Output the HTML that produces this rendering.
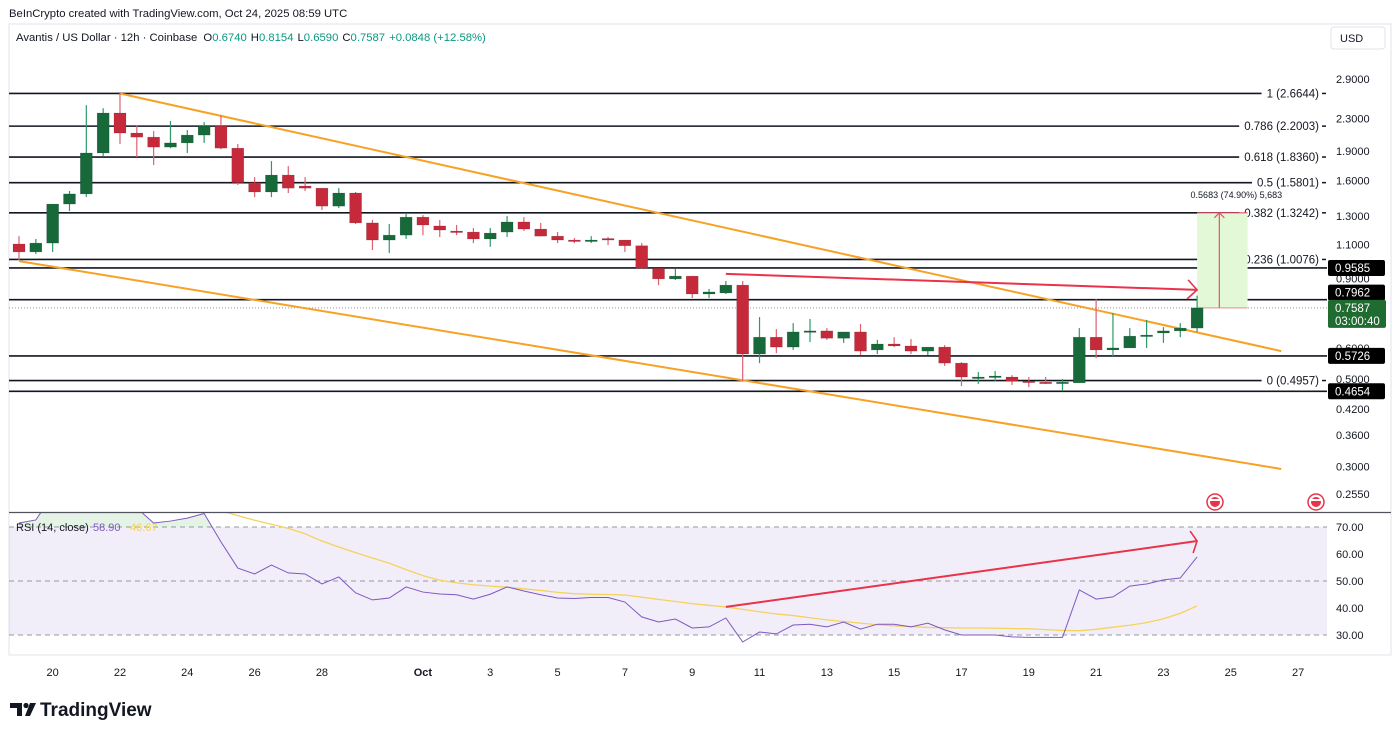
<!DOCTYPE html>
<html><head><meta charset="utf-8">
<style>
html,body{margin:0;padding:0;background:#fff;}
svg{display:block;font-family:"Liberation Sans",sans-serif;}
</style></head>
<body>
<svg id="chart" width="1400" height="736" viewBox="0 0 1400 736" xmlns="http://www.w3.org/2000/svg">
  <rect x="0" y="0" width="1400" height="736" fill="#fff"/>
  <text x="9" y="17" font-size="11.3" fill="#131722">BeInCrypto created with TradingView.com, Oct 24, 2025 08:59 UTC</text>
  <rect x="9" y="24" width="1382" height="631" fill="none" stroke="#e0e3eb" stroke-width="1"/>
  <text x="16" y="41" font-size="11.3" fill="#131722">Avantis / US Dollar · 12h · Coinbase <tspan dx="3">O</tspan><tspan fill="#089981">0.6740</tspan><tspan dx="4">H</tspan><tspan fill="#089981">0.8154</tspan><tspan dx="4">L</tspan><tspan fill="#089981">0.6590</tspan><tspan dx="4">C</tspan><tspan fill="#089981">0.7587</tspan><tspan dx="4" fill="#089981">+0.0848 (+12.58%)</tspan></text>
  <g>
    <rect x="1331" y="27" width="54" height="22" rx="3" fill="#fff" stroke="#e0e3eb"/>
    <text x="1340" y="42" font-size="11" fill="#131722">USD</text>
  </g>
  <g id="main"></g>
  <g id="rsi"></g>
  <g id="xaxis"></g>
  <g>
    <path d="M10 703 h12 v13 h-5 v-8 h-7z" fill="#131722"/>
    <circle cx="26" cy="705.5" r="2.6" fill="#131722"/>
    <path d="M30 703 h6 l-6 13 h-5z" fill="#131722"/>
    <text x="40" y="716" font-size="19" font-weight="bold" fill="#131722">TradingView</text>
  </g>
</svg>
<script>
// ---------- data ----------
const candleOpen  = [1.103,1.053,1.109,1.394,1.479,1.880,2.376,2.113,2.063,1.946,1.994,2.088,2.201,1.934,1.580,1.496,1.652,1.549,1.530,1.377,1.487,1.248,1.129,1.162,1.291,1.226,1.190,1.183,1.136,1.183,1.255,1.204,1.155,1.129,1.122,1.139,1.129,1.092,0.957,0.899,0.914,0.823,0.828,0.867,0.579,0.639,0.603,0.659,0.663,0.635,0.659,0.593,0.614,0.607,0.589,0.603,0.549,0.503,0.506,0.506,0.494,0.491,0.489,0.489,0.639,0.593,0.600,0.643,0.655,0.663,0.674];
const candleHigh  = [1.155,1.136,1.394,1.505,2.489,2.444,2.687,2.214,2.138,2.268,2.151,2.254,2.347,1.982,1.632,1.793,1.741,1.632,1.530,1.530,1.496,1.270,1.240,1.322,1.307,1.270,1.233,1.212,1.212,1.299,1.291,1.248,1.183,1.142,1.155,1.149,1.129,1.109,0.957,0.953,0.914,0.848,0.888,0.888,0.719,0.670,0.694,0.711,0.674,0.659,0.690,0.629,0.639,0.632,0.603,0.610,0.552,0.521,0.524,0.512,0.506,0.506,0.500,0.674,0.799,0.736,0.674,0.707,0.678,0.694,0.8154];
const candleLow   = [1.004,1.040,1.053,1.338,1.452,1.846,1.982,1.835,1.751,1.934,1.880,1.994,1.922,1.558,1.452,1.452,1.487,1.505,1.346,1.361,1.240,1.065,1.046,1.136,1.162,1.149,1.162,1.109,1.085,1.149,1.190,1.155,1.109,1.109,1.109,1.096,1.053,0.953,0.867,0.893,0.804,0.804,0.823,0.494,0.549,0.582,0.593,0.621,0.629,0.618,0.575,0.579,0.603,0.579,0.575,0.540,0.480,0.486,0.494,0.483,0.477,0.486,0.466,0.489,0.565,0.572,0.600,0.600,0.618,0.639,0.659];
const candleClose = [1.053,1.109,1.394,1.479,1.880,2.376,2.113,2.063,1.946,1.994,2.088,2.201,1.934,1.580,1.496,1.652,1.530,1.530,1.377,1.487,1.248,1.129,1.162,1.291,1.233,1.197,1.183,1.136,1.176,1.255,1.204,1.155,1.129,1.122,1.129,1.132,1.092,0.957,0.899,0.914,0.823,0.833,0.867,0.579,0.639,0.603,0.659,0.663,0.635,0.659,0.589,0.614,0.607,0.589,0.603,0.549,0.506,0.506,0.509,0.494,0.491,0.489,0.491,0.639,0.593,0.600,0.643,0.647,0.663,0.674,0.7587];
const rsiValues = [71.5,72.6,82,86,92,94,82,77,71.5,72.2,73.3,75,64.5,54.8,52.6,55.9,53,52.6,48.9,51.5,45.6,43,43.7,47.8,45.9,45.2,44.9,43.3,45.1,47.8,46.3,44.9,43.7,43.5,43.9,43.9,42.2,36.7,34.8,35.9,32.6,33,36.3,27.4,31.1,30.4,33.7,34,33,34.8,32.2,34,34,33,34.4,31.9,30,30,30,29.3,29.1,29.1,29.1,46.7,43.3,44.1,48.1,48.9,50.4,51.1,58.9];
const rsiMA = [null,null,null,null,null,null,null,null,null,null,null,null,76,74.2,72.5,71,69.5,67.5,64.8,62.6,60.5,58.5,56.6,54.2,52,50.3,49.3,48.6,48.1,47.7,47.1,46.5,45.8,45.3,45.1,45,44.8,44,43.2,42.4,41.6,41,40.4,39.5,38.6,37.8,37.2,36.4,35.6,35,34.4,33.8,33.4,33.1,32.8,32.7,32.6,32.6,32.5,32.4,32.3,32,31.7,31.6,32.1,32.9,33.6,34.6,36,38,40.8];
const fibRatios = ['1','0.786','0.618','0.5','0.382','0.236','0'];
const fibPrices = [2.6644,2.2003,1.8360,1.5801,1.3242,1.0076,0.4957];
const levelPrices = [0.9585,0.7962,0.5726,0.4654];
const priceTicks = [2.9,2.3,1.9,1.6,1.3,1.1,0.9,0.6,0.5,0.42,0.36,0.30,0.255];
const priceTickLabels = ['2.9000','2.3000','1.9000','1.6000','1.3000','1.1000','0.9000','0.6000','0.5000','0.4200','0.3600','0.3000','0.2550'];
const rsiTicks = [70,60,50,40,30];
const dateLabels = ['20','22','24','26','28','Oct','3','5','7','9','11','13','15','17','19','21','23','25','27'];
const dateLabelIndex = [2,6,10,14,18,24,28,32,36,40,44,48,52,56,60,64,68,72,76];
const upperChannel = [[6,2.664],[75,0.589]];
const lowerChannel = [[0,0.998],[75,0.2953]];
const priceArrow = [[42,0.926],[70,0.843]];
const rsiArrow = [[42,40.4],[70,64.8]];
const projection = [70,73,0.7587,1.3242];

// ---------- scales ----------
const NS='http://www.w3.org/2000/svg';
const X0=19, DX=16.83;
const xOf=i=>X0+i*DX;
const yOf=p=>79+(Math.log(2.9)-Math.log(p))*170.7;
const rY=v=>527+(70-v)*2.7;
function mk(parent,tag,attrs,text){const e=document.createElementNS(NS,tag);for(const k in attrs)e.setAttribute(k,attrs[k]);if(text!==undefined)e.textContent=text;parent.appendChild(e);return e;}
const main=document.getElementById('main');
const rsi=document.getElementById('rsi');
const xa=document.getElementById('xaxis');
const svg=document.getElementById('chart');

const defs=mk(svg,'defs',{});
const cp=mk(defs,'clipPath',{id:'mainclip'});mk(cp,'rect',{x:9,y:50,width:1318,height:462});
const cp2=mk(defs,'clipPath',{id:'rsiclip'});mk(cp2,'rect',{x:9,y:513,width:1318,height:142});
const cp3=mk(defs,'clipPath',{id:'obclip'});mk(cp3,'rect',{x:9,y:513,width:1318,height:14});
main.setAttribute('clip-path','url(#mainclip)');

// fib lines
fibPrices.forEach((p,k)=>{
  const y=yOf(p);
  const lab=fibRatios[k]+' ('+p.toFixed(4)+')';
  const g=mk(main,'g',{});
  
  
  const ln=mk(g,'line',{x1:9,x2:1240,y1:y,y2:y,stroke:'#131722','stroke-width':1.6});
  const t=mk(g,'text',{x:1319,y:y+4,'font-size':11.5,'text-anchor':'end',fill:'#131722'},lab);
  let tw=lab.length*5.8; try{tw=t.getComputedTextLength();}catch(e){}
  ln.setAttribute('x2',1319-tw-5);
  mk(g,'line',{x1:1322,x2:1326,y1:y,y2:y,stroke:'#131722','stroke-width':1.5});
});
levelPrices.forEach(p=>{
  const y=yOf(p);
  const l=mk(main,'line',{x1:9,x2:1327,y1:y,y2:y,stroke:'#131722','stroke-width':1.6});
  
  
});
const cy=yOf(candleClose[candleClose.length-1]);
const dl=mk(main,'line',{x1:9,x2:1327,y1:cy,y2:cy,stroke:'#9598a1','stroke-width':1,'stroke-dasharray':'1 2'});



{
  const x1=xOf(projection[0]),x2=xOf(projection[1]),y1=yOf(projection[3]),y2=yOf(projection[2]);
  const g=mk(main,'g',{});
  
  
  mk(g,'rect',{x:x1,y:y1,width:x2-x1,height:y2-y1,fill:'#e2f8d6'});
  mk(g,'line',{x1:x1,x2:x2,y1:y1,y2:y1,stroke:'#e8526a','stroke-width':1.2});
  mk(g,'line',{x1:x1,x2:x2,y1:y2,y2:y2,stroke:'#e8a0a8','stroke-width':1.2});
  const xm=(x1+x2)/2-3;
  mk(g,'line',{x1:xm,x2:xm,y1:y2,y2:y1,stroke:'#e8526a','stroke-width':1.2});
  mk(g,'path',{d:`M${xm-5} ${y1+5} L${xm} ${y1} L${xm+5} ${y1+5}`,fill:'none',stroke:'#e8526a','stroke-width':1.2});
  mk(g,'text',{x:(x1+x2)/2+14,y:y1-15,'font-size':9,'text-anchor':'middle',fill:'#131722'},'0.5683 (74.90%) 5,683');
}

[upperChannel,lowerChannel].forEach((c,k)=>{
  const l=mk(main,'line',{x1:xOf(c[0][0]),y1:yOf(c[0][1]),x2:xOf(c[1][0]),y2:yOf(c[1][1]),stroke:'#f7a125','stroke-width':2});
  
  
});

for(let i=0;i<candleOpen.length;i++){
  const o=candleOpen[i],h=candleHigh[i],lo=candleLow[i],c=candleClose[i];
  const up=c>=o, col=up?'#17693a':'#c62a3a', wc=up?'#2e9a68':'#e06070';
  const x=xOf(i);
  const g=mk(main,'g',{});
  
  
  mk(g,'line',{x1:x,x2:x,y1:yOf(h),y2:yOf(lo),stroke:wc,'stroke-width':1.2});
  const yt=yOf(Math.max(o,c)),yb=yOf(Math.min(o,c));
  mk(g,'rect',{x:x-6,y:yt,width:12,height:Math.max(yb-yt,1.5),fill:col,stroke:'#131722','stroke-opacity':0.25,'stroke-width':0.5});
}

{
  const x1=xOf(priceArrow[0][0]),y1=yOf(priceArrow[0][1]),x2=xOf(priceArrow[1][0]),y2=yOf(priceArrow[1][1]);
  const g=mk(main,'g',{});
  
  
  mk(g,'line',{x1,y1,x2,y2,stroke:'#e8334a','stroke-width':2});
  mk(g,'path',{d:`M${x2-9} ${y2-10} L${x2} ${y2} L${x2-10} ${y2+9}`,fill:'none',stroke:'#e8334a','stroke-width':1.6});
}

[1215,1316].forEach(x=>{
  const g=mk(main,'g',{});
  
  
  mk(g,'circle',{cx:x,cy:502,r:8,fill:'#fff',stroke:'#e8334a','stroke-width':1.5});
  mk(g,'circle',{cx:x,cy:502,r:5,fill:'#e8334a'});
  mk(g,'rect',{x:x-5,y:499,width:10,height:2,fill:'#fff'});
});

priceTicks.forEach((p,k)=>{
  const t=mk(svg,'text',{x:1336,y:yOf(p)+4,'font-size':11,fill:'#131722'},priceTickLabels[k]);
  
  
});
levelPrices.forEach(p=>{
  let y=yOf(p); if(p===0.7962) y-=7;
  const g=mk(svg,'g',{});
  
  
  mk(g,'rect',{x:1328,y:y-8,width:57,height:16,rx:2,fill:'#000'});
  mk(g,'text',{x:1335,y:y+4,'font-size':11.5,fill:'#fff'},p.toFixed(4));
});
{
  const g=mk(svg,'g',{});
  
  
  mk(g,'rect',{x:1328,y:cy-8,width:58,height:28,rx:2,fill:'#1f6b30'});
  mk(g,'text',{x:1335,y:cy+4,'font-size':11.5,fill:'#fff'},candleClose[candleClose.length-1].toFixed(4));
  mk(g,'text',{x:1335,y:cy+17,'font-size':11.5,fill:'#fff'},'03:00:40');
}
mk(svg,'line',{x1:9,x2:1391,y1:512.5,y2:512.5,stroke:'#50535e','stroke-width':1.2});

rsi.setAttribute('clip-path','url(#rsiclip)');
mk(rsi,'rect',{x:9,y:rY(70),width:1318,height:rY(30)-rY(70),fill:'#7e57c2','fill-opacity':0.1});
[70,50,30].forEach(v=>{
  const l=mk(rsi,'line',{x1:9,x2:1327,y1:rY(v),y2:rY(v),stroke:'#9598a1','stroke-width':1,'stroke-dasharray':'5 4'});
  
  
});
const rpts=rsiValues.map((v,i)=>xOf(i)+','+rY(v));
const ob=mk(rsi,'polygon',{points:xOf(0)+','+rY(70)+' '+rpts.join(' ')+' '+xOf(rsiValues.length-1)+','+rY(70),fill:'#4caf50','fill-opacity':0.15,'clip-path':'url(#obclip)'});


const maPts=[];rsiMA.forEach((v,i)=>{if(v!==null)maPts.push(xOf(i)+','+rY(v));});
const mal=mk(rsi,'polyline',{points:maPts.join(' '),fill:'none',stroke:'#f5d25c','stroke-width':1.3});


const rl=mk(rsi,'polyline',{points:rpts.join(' '),fill:'none',stroke:'#7e57c2','stroke-width':1});


{
  const x1=xOf(rsiArrow[0][0]),y1=rY(rsiArrow[0][1]),x2=xOf(rsiArrow[1][0]),y2=rY(rsiArrow[1][1]);
  const g=mk(rsi,'g',{});
  
  
  mk(g,'line',{x1,y1,x2,y2,stroke:'#e8334a','stroke-width':2});
  mk(g,'path',{d:`M${x2-7} ${y2-10} L${x2} ${y2} L${x2-4} ${y2+12}`,fill:'none',stroke:'#e8334a','stroke-width':1.6});
}
{
  const g=mk(svg,'g',{});
  
  
  mk(g,'text',{x:16,y:531,'font-size':11,fill:'#131722'},'RSI (14, close)');
  mk(g,'text',{x:93,y:531,'font-size':11,fill:'#7e57c2'},'58.90');
  mk(g,'text',{x:130,y:531,'font-size':11,fill:'#f5d25c'},'46.67');
}
rsiTicks.forEach(v=>{
  const t=mk(svg,'text',{x:1336,y:rY(v)+4,'font-size':11,fill:'#131722'},v.toFixed(2));
  
  
});

dateLabels.forEach((d,k)=>{
  const t=mk(xa,'text',{x:xOf(dateLabelIndex[k]),y:676,'font-size':11,'text-anchor':'middle',fill:'#131722','font-weight':d==='Oct'?'bold':'normal'},d);
  
  
});
</script>
</body></html>
